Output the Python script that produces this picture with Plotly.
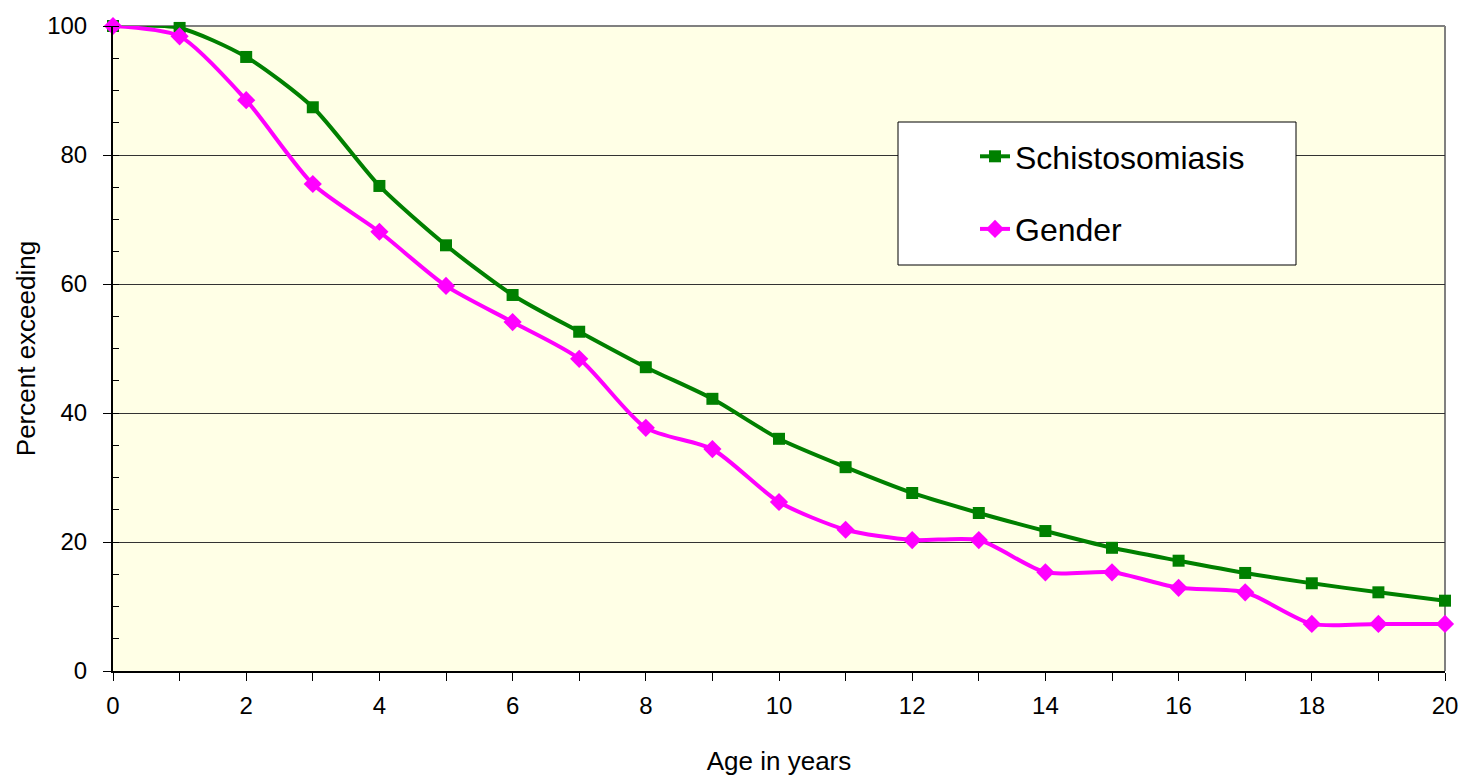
import plotly.graph_objects as go

ages = list(range(0, 21))
schisto = [100, 99.7, 95.2, 87.4, 75.2, 66.0, 58.3, 52.6, 47.1, 42.2, 36.0,
           31.6, 27.6, 24.5, 21.7, 19.1, 17.1, 15.2, 13.6, 12.2, 10.9]
gender = [100, 98.4, 88.5, 75.5, 68.1, 59.7, 54.1, 48.4, 37.7, 34.4, 26.2,
          21.9, 20.3, 20.3, 15.3, 15.3, 12.9, 12.2, 7.3, 7.3, 7.3]
x_ticks = list(range(0, 21, 2))
y_ticks = [0, 20, 40, 60, 80, 100]

FONT = "Liberation Sans, Arial, sans-serif"

fig = go.Figure()
fig.add_trace(go.Scatter(
    x=ages, y=schisto, name="Schistosomiasis", mode="lines+markers",
    line=dict(color="#008000", width=4, shape="spline", smoothing=0.7),
    marker=dict(symbol="square", size=12, color="#008000"),
    legendgroup="a", cliponaxis=False))
fig.add_trace(go.Scatter(
    x=ages, y=gender, name="Gender", mode="lines+markers",
    line=dict(color="#FF00FF", width=4, shape="spline", smoothing=0.7),
    marker=dict(symbol="diamond", size=14, color="#FF00FF"),
    legendgroup="b", cliponaxis=False))

# legend box
fig.add_shape(type="rect", xref="paper", yref="paper",
              x0=(898 - 113) / 1332, x1=(1296 - 113) / 1332,
              y0=(671 - 265) / 645, y1=(671 - 122) / 645,
              line=dict(color="#000000", width=1), fillcolor="white", layer="above")
# top & right border
fig.add_shape(type="line", xref="paper", yref="paper", x0=0, x1=1, y0=1, y1=1,
              line=dict(color="#808080", width=2), layer="below")
fig.add_shape(type="line", xref="paper", yref="paper", x0=1, x1=1, y0=0, y1=1,
              line=dict(color="#808080", width=2), layer="below")

fig.update_layout(
    width=1461, height=776,
    margin=dict(l=113, r=16, t=26, b=105, autoexpand=False),
    paper_bgcolor="white", plot_bgcolor="#FFFFE6",
    font=dict(family=FONT, color="black", size=24),
    showlegend=True,
    legend=dict(x=(975 - 113) / 1332, y=(671 - 129) / 645, xanchor="left", yanchor="top",
                bgcolor="rgba(0,0,0,0)", font=dict(size=32, family=FONT),
                tracegroupgap=28, traceorder="grouped"),
    xaxis=dict(range=[0, 20], tickvals=x_ticks, ticks="outside", ticklen=8,
               tickcolor="black", showline=True, linecolor="black", linewidth=2,
               showgrid=False, zeroline=False, ticklabelstandoff=4, automargin=False,
               tickfont=dict(size=24),
               minor=dict(dtick=1, ticks="outside", ticklen=8, tickcolor="black", showgrid=False),
               title=dict(text="Age in years", font=dict(size=26), standoff=34)),
    yaxis=dict(range=[0, 100], tickvals=y_ticks, ticks="outside", ticklen=8,
               tickcolor="black", showline=True, linecolor="black", linewidth=2,
               showgrid=True, gridcolor="#333333", gridwidth=1, zeroline=False,
               ticklabelstandoff=11, automargin=False,
               tickfont=dict(size=24),
               minor=dict(dtick=5, ticks="inside", ticklen=6, tickcolor="black", showgrid=False),
               title=dict(text="Percent exceeding", font=dict(size=26), standoff=4)),
)

fig.write_html("out.html", config={"displayModeBar": False},
               post_script="document.body.style.margin='0';")
